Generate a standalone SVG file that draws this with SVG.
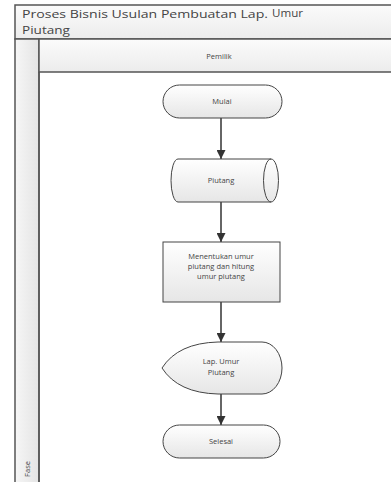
<svg xmlns="http://www.w3.org/2000/svg" width="391" height="482" viewBox="0 0 391 482">
<defs>
<linearGradient id="g" x1="0" y1="0" x2="0" y2="1"><stop offset="0" stop-color="#ffffff"/><stop offset="1" stop-color="#e6e6e6"/></linearGradient>
<linearGradient id="hg" x1="0" y1="0" x2="0" y2="1"><stop offset="0" stop-color="#fbfbfb"/><stop offset="1" stop-color="#ececec"/></linearGradient>
<linearGradient id="cg" x1="0" y1="0" x2="1" y2="0"><stop offset="0" stop-color="#f6f6f6"/><stop offset="1" stop-color="#e4e4e4"/></linearGradient>
<marker id="ah" viewBox="0 0 10 10" refX="10" refY="5" markerWidth="9" markerHeight="9" markerUnits="userSpaceOnUse" orient="auto"><path d="M0,0 L10,5 L0,10 Z" fill="#333"/></marker>
</defs>
<style>
.frame{stroke:#555;stroke-width:1.5}
.node{fill:url(#g);stroke:#444;stroke-width:1}
.tt{font-family:"Open Sans","DejaVu Sans",sans-serif;font-size:11px;fill:#444}
.t{font-family:"Open Sans","DejaVu Sans",sans-serif;font-size:7.5px;fill:#444;text-anchor:middle}
.conn{stroke:#333;stroke-width:1.5;fill:none;marker-end:url(#ah)}
</style>
<rect width="391" height="482" fill="#fff"/>
<g id="pool">
<rect x="15" y="5" width="380" height="34" fill="url(#hg)" class="frame"/>
<text x="22" y="17.5" class="tt" textLength="246" lengthAdjust="spacingAndGlyphs">Proses Bisnis Usulan Pembuatan Lap.</text>
<text x="272" y="17" class="tt" font-size="11.5" textLength="31" lengthAdjust="spacingAndGlyphs">Umur</text>
<text x="22" y="33.5" class="tt" textLength="48" lengthAdjust="spacingAndGlyphs">Piutang</text>
<rect x="15" y="39" width="24" height="450" fill="url(#cg)" class="frame"/>
<rect x="39" y="39" width="356" height="33" fill="url(#hg)" class="frame"/>
<text x="219" y="59" class="t" font-size="9.5">Pemilik</text>
<line x1="39" y1="72" x2="39" y2="482" class="frame"/>
<text transform="translate(30,469) rotate(-90)" class="t" font-size="8">Fase</text>
</g>
<g id="connectors">
<line x1="221" y1="118" x2="221" y2="159" class="conn"/>
<line x1="221" y1="202" x2="221" y2="242" class="conn"/>
<line x1="221" y1="302" x2="221" y2="342" class="conn"/>
<line x1="221" y1="394" x2="221" y2="425" class="conn"/>
</g>
<g id="mulai">
<rect x="163" y="85" width="119" height="33" rx="16.5" class="node"/>
<text x="222" y="104" class="t">Mulai</text>
</g>
<g id="piutang">
<path d="M178,159 L271,159 A7.5,21.5 0 0 1 271,202 L178,202 A7,21.5 0 0 1 178,159 Z" class="node"/>
<path d="M271,159 A7.5,21.5 0 0 0 271,202" fill="none" stroke="#444" stroke-width="1"/>
<text x="221" y="183" class="t">Piutang</text>
</g>
<g id="menentukan">
<rect x="163" y="242" width="117" height="60" class="node"/>
<text x="221" y="259" class="t">Menentukan umur</text>
<text x="221" y="269" class="t">piutang dan hitung</text>
<text x="221" y="279" class="t">umur piutang</text>
</g>
<g id="laporan">
<path d="M162,368 Q178,343 218,342 L262,342 A20,26 0 0 1 262,394 L218,394 Q178,393 162,368 Z" class="node"/>
<text x="221" y="364" class="t">Lap. Umur</text>
<text x="221" y="375" class="t">Piutang</text>
</g>
<g id="selesai">
<rect x="163" y="425" width="117" height="33" rx="16.5" class="node"/>
<text x="221" y="444" class="t">Selesai</text>
</g>
</svg>
